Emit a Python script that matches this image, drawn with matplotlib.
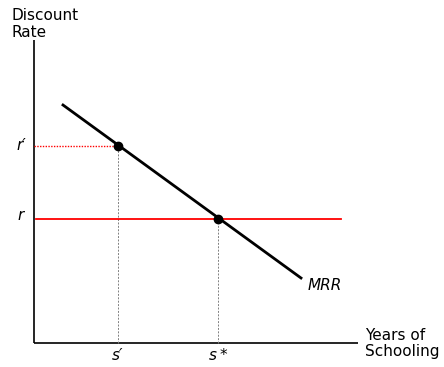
import matplotlib
matplotlib.use("Agg")
import matplotlib.pyplot as plt

# MRR curve end points (schooling, rate) in chart units
mrr_x = [29, 267]
mrr_y = [238, 65]
# marked points
s_prime, r_prime = 84, 197
s_star, r_level = 184, 124
# red horizontal line span
r_line_x = [2, 307]

fig = plt.figure(figsize=(4.44, 3.67), dpi=100)
ax = fig.add_axes([0, 0, 1, 1])
ax.set_xlim(-34, 410)
ax.set_ylim(-24, 343)
ax.axis("off")

# axes
ax.plot([0, 0], [0, 303], color="black", lw=1.2, solid_capstyle="butt")
ax.plot([0, 324], [0, 0], color="black", lw=1.2, solid_capstyle="butt")

# guides
ax.plot([0, s_prime], [r_prime, r_prime], color="red", lw=1.0, ls=(0, (1, 1)))
ax.plot([s_prime, s_prime], [0, r_prime], color="gray", lw=0.7, ls=(0, (2, 1.5)))
ax.plot([s_star, s_star], [0, r_level], color="gray", lw=0.7, ls=(0, (2, 1.5)))
ax.plot(r_line_x, [r_level, r_level], color="red", lw=1.3)

# MRR
ax.plot(mrr_x, mrr_y, color="black", lw=2.0)
ax.plot([s_prime, s_star], [r_prime, r_level], "o", color="black", ms=6)

# labels
ax.text(-22, 335, "Discount\nRate", fontsize=11, va="top", ha="left", linespacing=1.15)
ax.text(324 + 7, 15, "Years of\nSchooling", fontsize=11, va="top", ha="left", linespacing=1.05)
ax.text(-8, r_prime, "r\u2032", fontsize=11, style="italic", ha="right", va="center")
ax.text(-10, r_level + 4, "r", fontsize=11, style="italic", ha="right", va="center")
ax.text(s_prime, -5, "s\u2032", fontsize=11, style="italic", ha="center", va="top")
ax.text(s_star, -5, "s\u2009*", fontsize=11, style="italic", ha="center", va="top")
ax.text(274, 57, "MRR", fontsize=11, style="italic", ha="left", va="center")

fig.savefig("out.png", dpi=100)
